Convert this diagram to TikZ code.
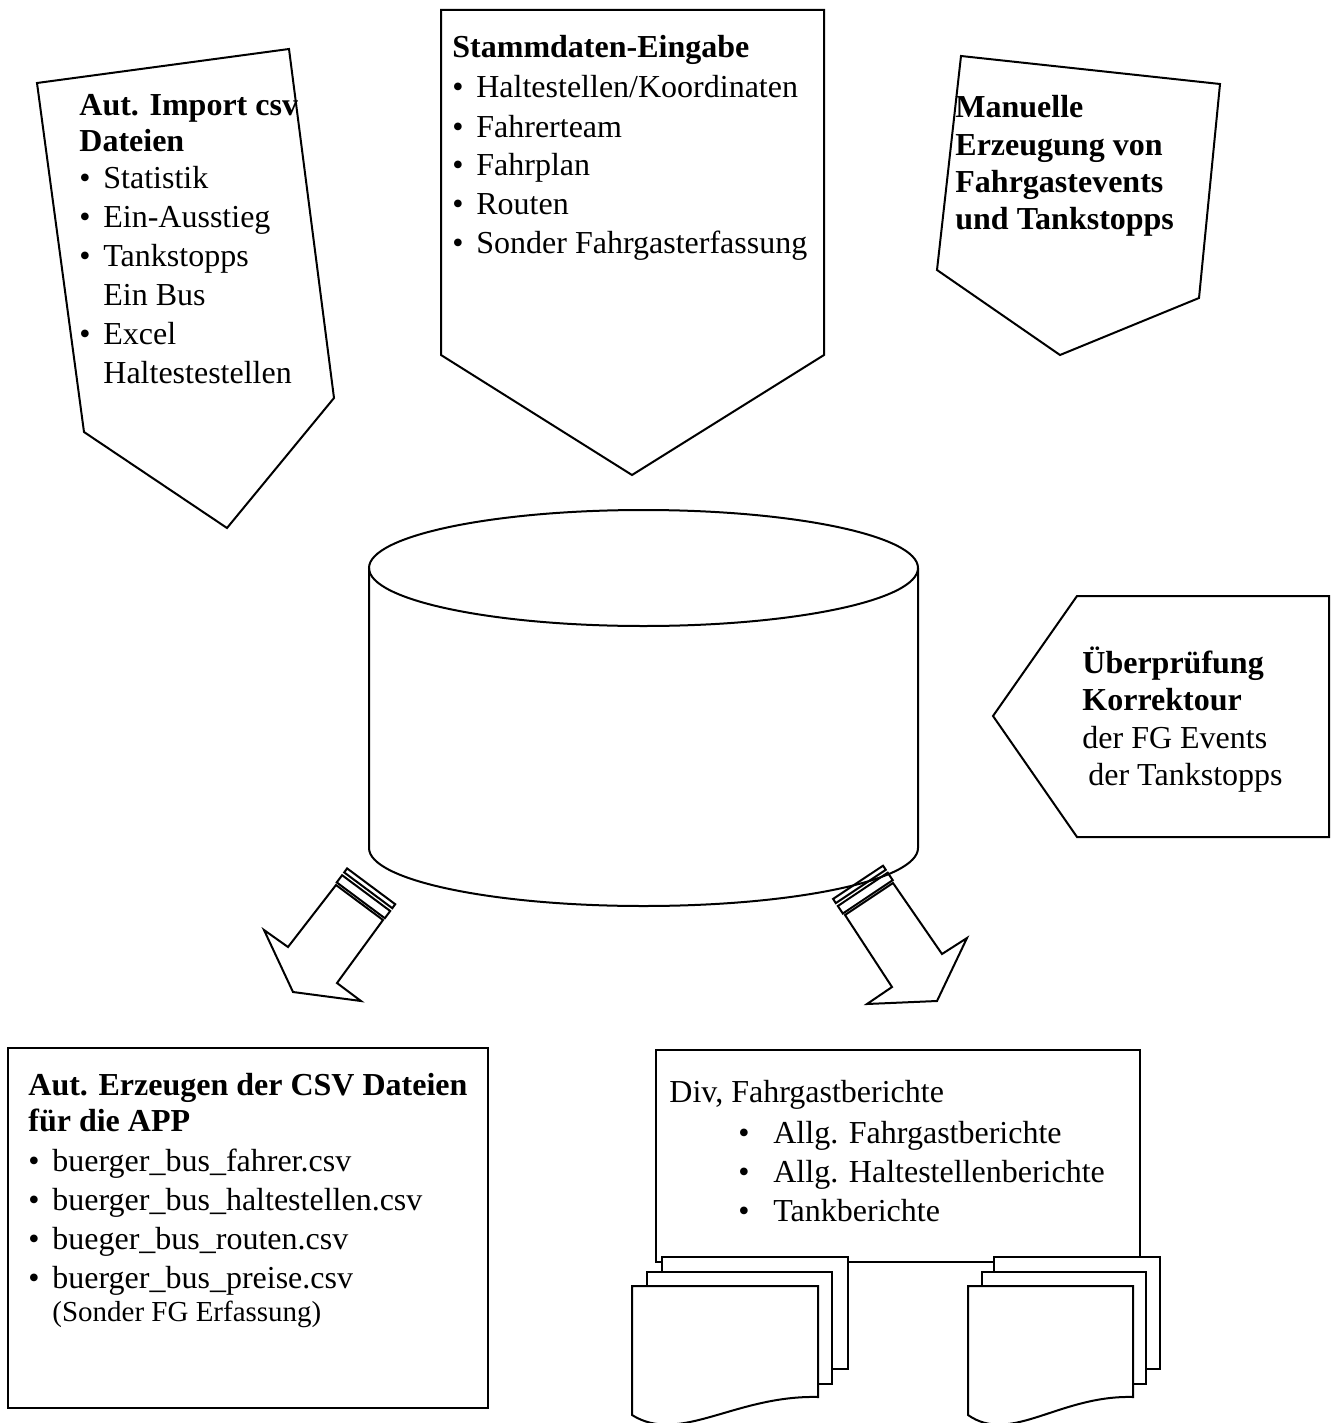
\documentclass[tikz,border=0pt]{standalone}
\usepackage{fontspec}
\setmainfont{Liberation Serif}
\newcommand{\bul}{\makebox[12pt][l]{\textbullet}}
\newcommand{\bulb}{\makebox[17.5pt][l]{\textbullet}}
\newcommand{\ind}{\hspace*{12pt}}
\tikzset{
  outl/.style={draw, line width=1pt, line join=miter},
  txt/.style={anchor=base west, inner sep=0pt, align=left, font=\fontsize{16}{19.5}\selectfont},
}
\begin{document}
\begin{tikzpicture}[x=0.5pt,y=-0.5pt]
\useasboundingbox (0,0) rectangle (1335,1423);

% pentagons
\draw[outl] (37,83) -- (289,49) -- (334,398) -- (227,528) -- (84,432) -- cycle;
\draw[outl] (441,10) -- (824,10) -- (824,355) -- (632,475) -- (441,355) -- cycle;
\draw[outl] (961,56) -- (1220,84) -- (1199,298) -- (1060,355) -- (937,270) -- cycle;
\draw[outl] (1077,596) -- (1329,596) -- (1329,837) -- (1077,837) -- (993,716) -- cycle;

% cylinder
\draw[outl] (643.5,568) ellipse [x radius=274.5, y radius=58];
\draw[outl] (369,568) -- (369,848) arc[start angle=180, end angle=0, x radius=274.5, y radius=58] -- (918,568);

% left block arrow
\draw[outl] (336,885) -- (288,947) -- (264,930) -- (293,992) -- (361,1001) -- (337,983) -- (383,920) -- cycle;
\draw[outl] (336.7,882.4) -- (384.8,918.2) -- (390.2,911.0) -- (342.1,875.2) -- cycle;
\draw[outl] (344.2,872.4) -- (392.3,908.2) -- (395.2,904.2) -- (347.1,868.4) -- cycle;

% right block arrow
\draw[outl] (845,915) -- (892,987) -- (867,1004) -- (937,1001) -- (967,938) -- (942,954) -- (893,883) -- cycle;
\draw[outl] (842.8,913.5) -- (892.7,880.2) -- (887.7,872.7) -- (837.8,906.0) -- cycle;
\draw[outl] (835.8,903.1) -- (885.8,869.8) -- (883.0,865.7) -- (833.1,898.9) -- cycle;

% boxes
\draw[outl] (8,1048) rectangle (488,1408);
\draw[outl] (656,1050) rectangle (1140,1262);

% document stack 1
\draw[outl,fill=white] (662,1257) rectangle (848,1369);
\draw[outl,fill=white] (647,1272) rectangle (832,1384);
\draw[outl,fill=white] (632,1286) -- (818,1286) -- (818,1397) .. controls (735,1395) and (680,1445) .. (632,1415) -- cycle;

% document stack 2
\draw[outl,fill=white] (994,1257) rectangle (1160,1369);
\draw[outl,fill=white] (982,1272) rectangle (1146,1384);
\draw[outl,fill=white] (968,1286) -- (1133,1286) -- (1133,1397) .. controls (1059,1395) and (1011,1445) .. (968,1415) -- cycle;

% texts (base anchor = baseline of last line)
\node[txt] (imp) at (79,383) {\textbf{Aut. Import csv}\\[-1.5pt]\textbf{Dateien}\\[-1pt]\bul Statistik\\\bul Ein-Ausstieg\\\bul Tankstopps\\\ind Ein Bus\\\bul Excel\\\ind Haltestestellen};

\node[txt] (stamm) at (452,254) {\textbf{Stammdaten-Eingabe}\\[0.5pt]\bul Haltestellen/Koordinaten\\\bul Fahrerteam\\\bul Fahrplan\\\bul Routen\\\bul Sonder Fahrgasterfassung};

\node[txt, font=\bfseries\fontsize{16}{18.7}\selectfont] (man) at (955,230) {Manuelle\\Erzeugung von\\Fahrgastevents\\und Tankstopps};

\node[txt, font=\fontsize{16}{18.5}\selectfont] (pruef) at (1082,785) {\textbf{Überprüfung}\\\textbf{Korrektour}\\[0.5pt]der FG Events\\\hspace*{3pt}der Tankstopps};

\node[txt] (csv) at (28,1321) {\textbf{Aut. Erzeugen der CSV Dateien}\\[-1.5pt]\textbf{für die APP}\\[0.5pt]\bul buerger\_bus\_fahrer.csv\\\bul buerger\_bus\_haltestellen.csv\\\bul bueger\_bus\_routen.csv\\\bul buerger\_bus\_preise.csv\\[-3pt]\ind{\fontsize{14.5}{16}\selectfont (Sonder FG Erfassung)}};

\node[txt] (div) at (669,1102) {Div, Fahrgastberichte};
\node[txt] (ber) at (738,1221) {\bulb Allg. Fahrgastberichte\\\bulb Allg. Haltestellenberichte\\\bulb Tankberichte};
\end{tikzpicture}
\end{document}
